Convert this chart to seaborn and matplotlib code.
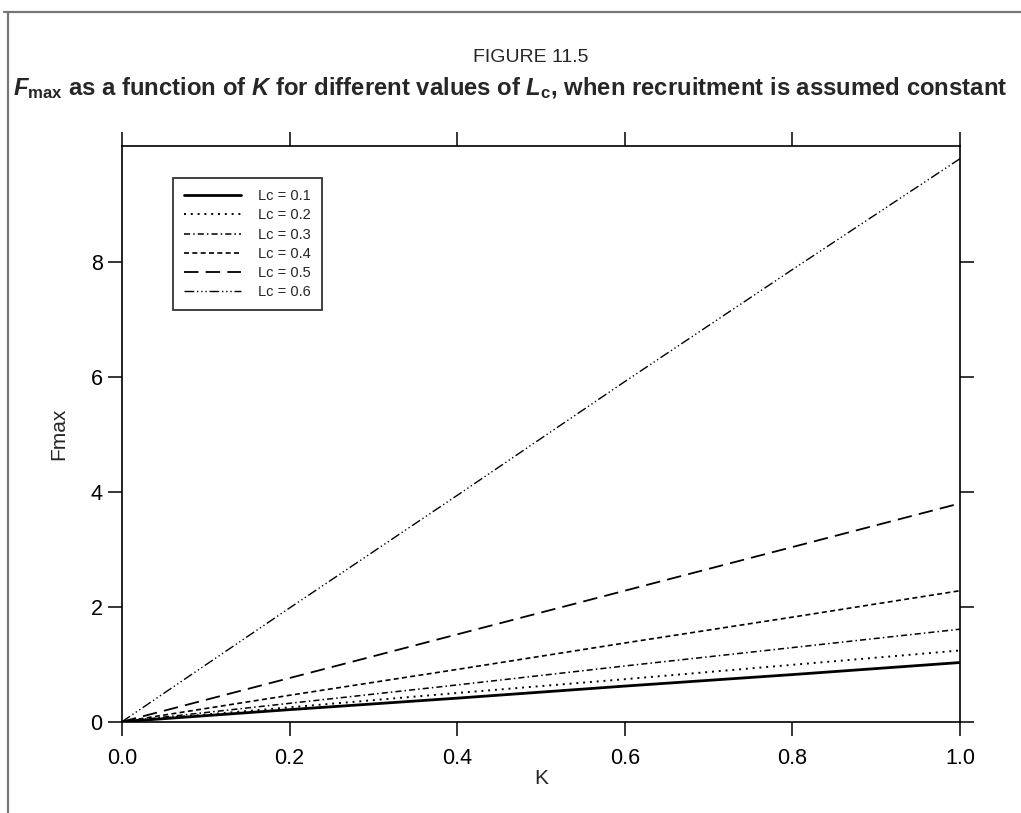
import matplotlib
matplotlib.use("Agg")
import matplotlib.pyplot as plt
from matplotlib import font_manager
from matplotlib.lines import Line2D
import seaborn as sns
import pandas as pd

# values
k_vals = [0.0, 0.2, 0.4, 0.6, 0.8, 1.0]
lc_labels = ["Lc = 0.1", "Lc = 0.2", "Lc = 0.3", "Lc = 0.4", "Lc = 0.5", "Lc = 0.6"]
f_lc01 = [0.0, 0.21, 0.41, 0.62, 0.82, 1.03]
f_lc02 = [0.0, 0.25, 0.50, 0.74, 0.99, 1.24]
f_lc03 = [0.0, 0.32, 0.64, 0.97, 1.29, 1.61]
f_lc04 = [0.0, 0.46, 0.91, 1.37, 1.82, 2.28]
f_lc05 = [0.0, 0.76, 1.52, 2.28, 3.04, 3.80]
f_lc06 = [0.0, 1.98, 3.94, 5.92, 7.87, 9.80]
x_ticks = [0.0, 0.2, 0.4, 0.6, 0.8, 1.0]
y_ticks = [0, 2, 4, 6, 8]

sns.set_style("ticks")
names = [f.name for f in font_manager.fontManager.ttflist]
narrow = "Liberation Sans Narrow" if "Liberation Sans Narrow" in names else "Liberation Sans"
plt.rcParams["font.family"] = ["Liberation Sans", "DejaVu Sans"]
plt.rcParams["mathtext.fontset"] = "custom"
plt.rcParams["mathtext.rm"] = narrow + ":bold"
plt.rcParams["mathtext.it"] = narrow + ":bold:italic"

series = [f_lc01, f_lc02, f_lc03, f_lc04, f_lc05, f_lc06]
styles = ["-", (0, (1, 2.5)), (0, (4, 2, 1, 2)), (0, (3, 2)), (0, (8, 4)),
          (0, (7, 2, 1, 2, 1, 2, 1, 2))]
widths = [2.0, 1.4, 1.1, 1.2, 1.3, 1.0]

df = pd.DataFrame({"K": k_vals * 6,
                   "Fmax": sum(series, []),
                   "Lc": [lab for lab in lc_labels for _ in k_vals]})

fig = plt.figure(figsize=(10.21, 8.13), dpi=100)
ax = fig.add_axes([0.1195, 0.1123, 0.8208, 0.7081])

for lab, ls, lw in zip(lc_labels, styles, widths):
    sub = df[df["Lc"] == lab]
    sns.lineplot(data=sub, x="K", y="Fmax", ax=ax, color="black",
                 linestyle=ls, linewidth=lw, label=lab)

ax.set_xlim(0, 1)
ax.set_ylim(0, 10.02)
ax.set_xticks(x_ticks)
ax.set_xticklabels([f"{v:.1f}" for v in x_ticks])
ax.set_yticks(y_ticks)
ax.tick_params(axis="both", which="both", direction="out", length=10, width=1.1,
               labelsize=15.5, colors="black", top=True, right=True, pad=9)
ax.tick_params(axis="y", pad=4)
for s in ax.spines.values():
    s.set_linewidth(1.2)
    s.set_color("black")
ax.set_xlabel("K", fontsize=15, labelpad=0)
ax.set_ylabel("Fmax", fontsize=15, labelpad=16)

leg = ax.legend(loc="upper left", bbox_to_anchor=(0.0605, 0.944), borderaxespad=0,
                fontsize=10.5, handlelength=3.9, labelspacing=0.36, fancybox=False,
                frameon=True, edgecolor="black", borderpad=0.75, handletextpad=1.2)
leg.get_frame().set_linewidth(1.3)

fig.text(0.52, 0.929, "FIGURE 11.5", ha="center", va="center", fontsize=14,
         family=[narrow, "DejaVu Sans"])
fig.text(0.500, 0.892,
         r"$\mathit{F}_{\mathrm{max}}$ as a function of $\mathit{K}$ for different values of "
         r"$\mathit{L}_{\mathrm{c}}$, when recruitment is assumed constant",
         ha="center", va="center", fontsize=17.2, fontweight="bold",
         family=[narrow, "DejaVu Sans"])

# page border (top and left)
fig.add_artist(Line2D([0.004, 1.0], [0.985, 0.985], color="#777777", lw=1.6))
fig.add_artist(Line2D([0.008, 0.008], [0.0, 0.985], color="#777777", lw=1.6))

fig.savefig("out.png", dpi=100)
